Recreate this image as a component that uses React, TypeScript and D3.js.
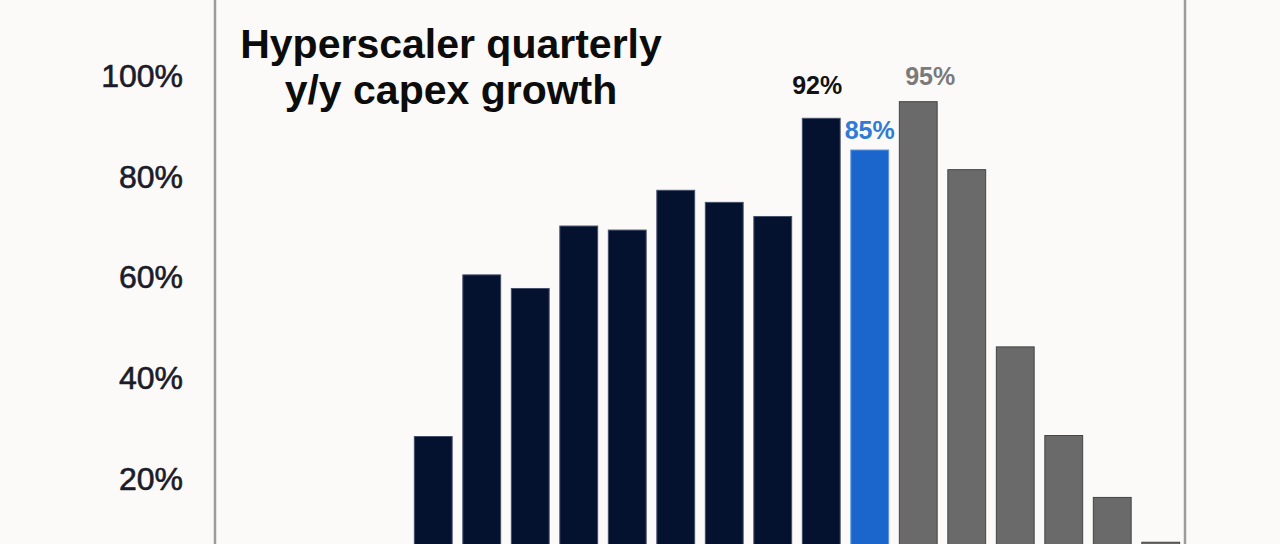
import React from "react";
import * as d3 from "d3";

const categories = [
  "1Q22", "2Q22", "3Q22", "4Q22",
  "1Q23", "2Q23", "3Q23", "4Q23",
  "1Q24", "2Q24", "3Q24", "4Q24",
  "1Q25", "2Q25", "3Q25", "4Q25",
  "1Q26", "2Q26", "3Q26", "4Q26",
];
// y/y growth, %
const values = [
  2, -3, -4, 1,
  28.3, 60.4, 57.7, 70.1, 69.3, 77.2, 74.8, 72,
  91.5, 85.2, 94.8, 81.3, 46.1, 28.5, 16.2, 7.3,
];
// series kind per bar: actual, current, estimate
const kinds = [
  "a", "a", "a", "a", "a", "a", "a", "a", "a", "a", "a", "a",
  "a", "c", "e", "e", "e", "e", "e", "e",
];
const labelled = [
  { i: 12, text: "92%", color: "#121212", dx: -4, dy: -24 },
  { i: 13, text: "85%", color: "#2f7bd6", dx: 0, dy: -11 },
  { i: 14, text: "95%", color: "#7a7a7a", dx: 12, dy: -17 },
];
const yTicks = [20, 40, 60, 80, 100];
const titleLines = ["Hyperscaler quarterly", "y/y capex growth"];

const W = 1280;
const H = 544;
const plotLeft = 215;
const plotRight = 1185;

const fills: Record<string, string> = { a: "#04112f", c: "#1b66cd", e: "#6a6a6a" };
const strokes: Record<string, string> = { a: "#46506a", c: "#5e93dc", e: "#454545" };

export default function App() {
  const x = d3
    .scaleBand<string>()
    .domain(categories)
    .range([plotLeft, plotRight])
    .paddingInner(0.22)
    .paddingOuter(0.11);
  const y = d3.scaleLinear().domain([0, 100]).range([579, 75.5]);
  const font = "'Liberation Sans', Arial, sans-serif";

  return (
    <svg
      width={W}
      height={H}
      style={{ position: "absolute", left: 0, top: 0, background: "#fbfaf8" }}
    >
      <rect x={0} y={0} width={W} height={H} fill="#fbfaf8" />
      {yTicks.map((t) => (
        <text
          key={t}
          x={183}
          y={y(t) + 11.5}
          textAnchor="end"
          fontFamily={font}
          fontSize={32}
          fill="#1b1c2a"
          stroke="#1b1c2a"
          strokeWidth={0.6}
        >
          {t}%
        </text>
      ))}
      <line x1={plotLeft} x2={plotLeft} y1={0} y2={H} stroke="#9c9c9c" strokeWidth={2.5} />
      <line x1={plotRight} x2={plotRight} y1={0} y2={H} stroke="#9c9c9c" strokeWidth={2.5} />
      {categories.map((c, i) => {
        const v = values[i];
        const top = y(Math.max(v, 0));
        const bottom = y(Math.min(v, 0));
        return (
          <rect
            key={c}
            x={x(c)!}
            y={top}
            width={x.bandwidth()}
            height={Math.max(0, bottom - top)}
            fill={fills[kinds[i]]}
            stroke={strokes[kinds[i]]}
            strokeWidth={1}
          />
        );
      })}
      {labelled.map((l) => (
        <text
          key={l.text}
          x={x(categories[l.i])! + x.bandwidth() / 2 + l.dx}
          y={y(values[l.i]) + l.dy}
          textAnchor="middle"
          fontFamily={font}
          fontWeight="bold"
          fontSize={25}
          fill={l.color}
        >
          {l.text}
        </text>
      ))}
      {titleLines.map((t, i) => (
        <text
          key={t}
          x={451}
          y={58 + i * 46}
          textAnchor="middle"
          fontFamily={font}
          fontWeight="bold"
          fontSize={41}
          fill="#0c0c0c"
        >
          {t}
        </text>
      ))}
    </svg>
  );
}
